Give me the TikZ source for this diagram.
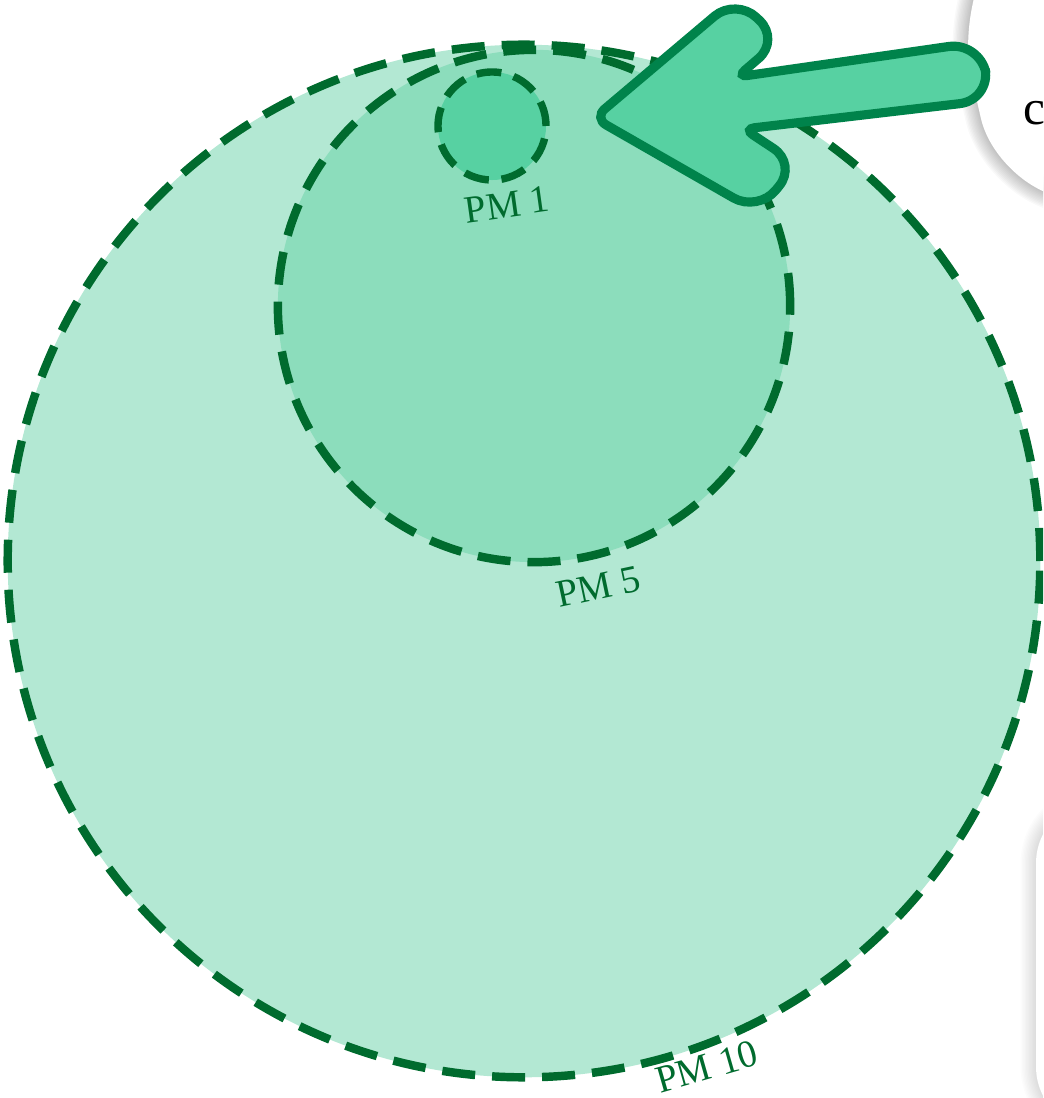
\documentclass[tikz,border=0pt]{standalone}
\usepackage{fontspec}
\setmainfont{Liberation Serif}
\usetikzlibrary{positioning}
\definecolor{bordePM}{HTML}{006B2E}
\definecolor{rellenoGrande}{HTML}{B3E8D3}
\definecolor{rellenoMedio}{HTML}{8CDDBC}
\definecolor{rellenoChico}{HTML}{57D1A2}
\definecolor{bordeFlecha}{HTML}{00834B}

\begin{document}
\begin{tikzpicture}[x=0.01cm, y=-0.01cm, font=\fontsize{11}{13}\selectfont,
        zona/.style={circle, draw=bordePM, line width=2.4pt, inner sep=0,
            dash pattern=on 0.33cm off 0.17cm},
        etiq/.style={anchor=north, inner sep=1.5pt, text=bordePM},
        sombra/.style={black, opacity=0.022, rounded corners=18pt},
        caja/.style={fill=white, rounded corners=18pt},
        flecha/.style={draw=bordeFlecha, fill=rellenoChico, line width=2.6pt}]
        \useasboundingbox (0,0) rectangle (1043,1098);
        \clip (0,0) rectangle (1043,1098);
        % cajas de texto (recortadas)
        \foreach \w in {2,4,...,22} {
            \draw[sombra, line width=\w*0.4pt] (1000,-60) -- (957,14) -- (995,180) -- (1130,215) -- (1130,-60) -- cycle;
            \draw[sombra, opacity=0.012, line width=\w*0.4pt] (1036,800) rectangle (1200,1130);
        }
        \fill[caja] (1000,-60) -- (957,14) -- (995,180) -- (1130,215) -- (1130,-60) -- cycle;
        \fill[caja] (1036,800) rectangle (1200,1130);
        \node[anchor=west, font=\fontsize{14}{16}\selectfont, inner sep=0] (txt) at (1023,113) {c};
        % zonas
        \node[zona, fill=rellenoGrande, minimum size=10.32cm] (pm10) at (524,561) {};
        \node[zona, fill=rellenoMedio, minimum size=5.12cm] (pm5) at (534,306) {};
        \node[zona, fill=rellenoChico, minimum size=1.08cm, line width=2.1pt,
            dash pattern=on 0.25cm off 0.127cm] (pm1) at (492,126) {};
        \node[etiq, rotate=8, inner sep=2.5pt] (lbl1) at (pm1.-78) {PM 1};
        \node[etiq, rotate=12, inner sep=4pt] (lbl5) at (pm5.-77) {PM 5};
        \node[etiq, rotate=16, inner sep=1pt] (lbl10) at (pm10.-70) {PM 10};
        % flecha
        \draw[flecha, rounded corners=4pt] (594,118) [rounded corners=8pt] -- (736,-2) -- (780,40)
            [rounded corners=3pt] -- (737,77) [rounded corners=9pt] -- (980,42) -- (991,100)
            [rounded corners=3pt] -- (744,129) [rounded corners=8pt] -- (797,164) -- (758,212)
            [rounded corners=4pt] -- cycle;
    \end{tikzpicture}
\end{document}
